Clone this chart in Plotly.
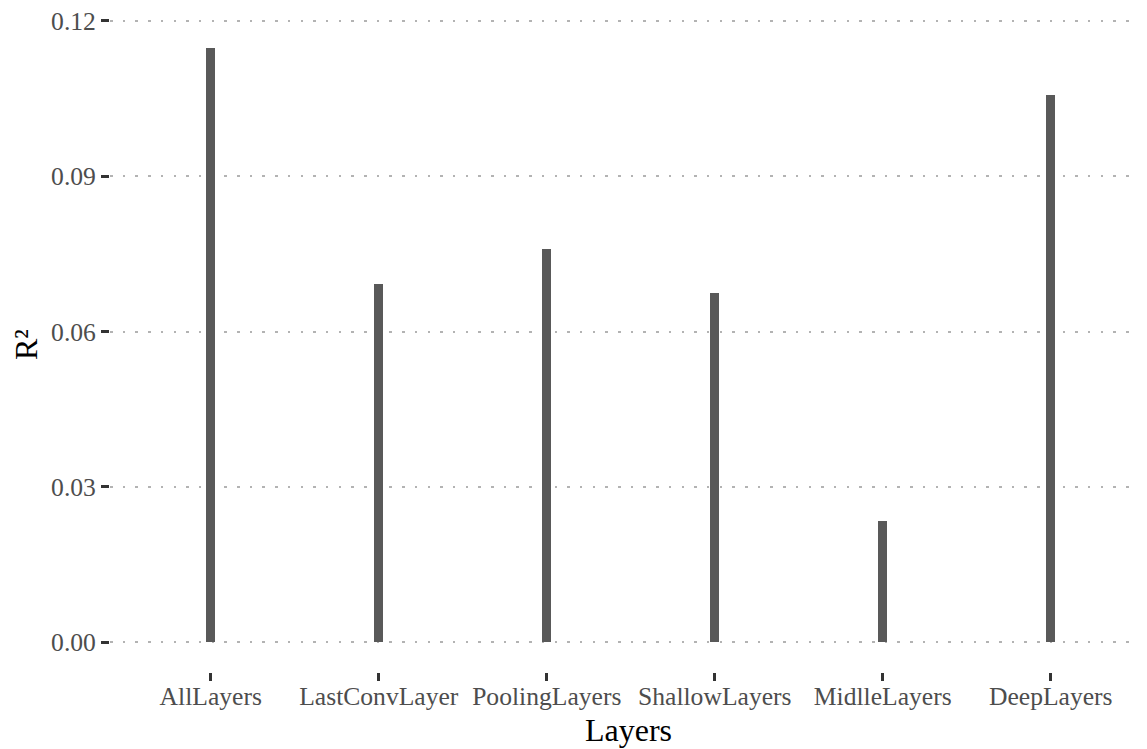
import plotly.graph_objects as go

categories = ["AllLayers", "LastConvLayer", "PoolingLayers", "ShallowLayers", "MidlleLayers", "DeepLayers"]
r2_values = [0.1148, 0.0692, 0.0759, 0.0674, 0.0234, 0.1057]
y_tick_vals = [0.00, 0.03, 0.06, 0.09, 0.12]
y_tick_text = ["0.00", "0.03", "0.06", "0.09", "0.12"]

FONT = "Liberation Serif, DejaVu Serif, serif"

fig = go.Figure(go.Bar(
    x=list(range(len(categories))), y=r2_values,
    width=0.054, marker=dict(color="#595959", line=dict(width=0)),
))

# the page body has an 8px margin, so the figure is 8px smaller and shifted
fig.update_layout(
    width=1139, height=741,
    margin=dict(l=102, r=0, t=9, b=77),
    plot_bgcolor="white", paper_bgcolor="white",
    font=dict(family=FONT, color="#4d4d4d", size=25),
    showlegend=False,
    bargap=0,
)
fig.update_xaxes(
    range=[-0.6, 5.573], tickmode="array", automargin=False,
    tickvals=list(range(len(categories))), ticktext=categories,
    showgrid=False, zeroline=False, showline=False,
    ticks="outside", ticklen=8, tickwidth=2.5, tickcolor="#333333",
    ticklabelstandoff=-7, ticklabeloverflow="allow",
    tickfont=dict(family=FONT, size=25.6, color="#4d4d4d"),
    title=dict(text="Layers", font=dict(family=FONT, size=32, color="#000000"), standoff=8),
)
fig.update_yaxes(
    range=[-0.00575, 0.12075], tickmode="array", automargin=False,
    tickvals=y_tick_vals, ticktext=y_tick_text,
    showgrid=True, gridcolor="#b3b3b3", gridwidth=2.4, griddash="2.5px,10.2px",
    zeroline=False, showline=False,
    ticks="outside", ticklen=8, tickwidth=2.5, tickcolor="#333333",
    ticklabeloverflow="allow",
    tickfont=dict(family=FONT, size=25.6, color="#4d4d4d"),
    title=dict(text="R²", font=dict(family=FONT, size=32, color="#000000"), standoff=8),
)

fig.write_html("out.html")
